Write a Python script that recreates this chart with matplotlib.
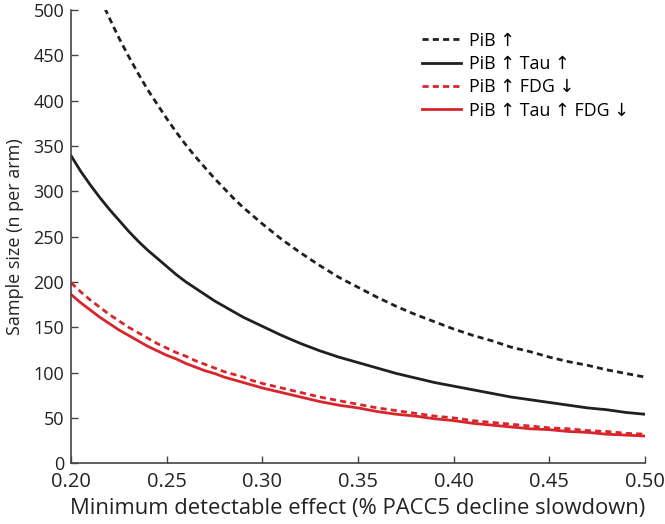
import numpy as np
import matplotlib
matplotlib.use('Agg')
import matplotlib.pyplot as plt

plt.rcParams['font.family'] = ['Open Sans', 'DejaVu Sans']

effect = [0.200, 0.205, 0.210, 0.215, 0.220, 0.225, 0.230, 0.235, 0.240, 0.245,
          0.250, 0.255, 0.260, 0.265, 0.270, 0.275, 0.280, 0.285, 0.290, 0.295,
          0.30, 0.31, 0.32, 0.33, 0.34, 0.35, 0.36, 0.37, 0.38, 0.39, 0.40,
          0.41, 0.42, 0.43, 0.44, 0.45, 0.46, 0.47, 0.48, 0.49, 0.50]

pib = [594, 565, 538, 514, 491, 469, 449, 430, 412, 396,
       380, 365, 351, 338, 326, 314, 303, 292, 282, 273,
       264, 247, 232, 218, 205, 194, 183, 173, 164, 156, 148,
       141, 135, 128, 123, 117, 112, 108, 103, 99, 95]
pib_tau = [339, 322, 307, 293, 280, 268, 256, 245, 235, 226,
           217, 208, 200, 193, 186, 179, 173, 167, 161, 156,
           151, 141, 132, 124, 117, 111, 105, 99, 94, 89, 85,
           81, 77, 73, 70, 67, 64, 61, 59, 56, 54]
pib_fdg = [199, 189, 180, 172, 164, 157, 150, 144, 138, 132,
           127, 122, 118, 113, 109, 105, 101, 98, 95, 91,
           88, 83, 78, 73, 69, 65, 61, 58, 55, 52, 50,
           47, 45, 43, 41, 39, 38, 36, 35, 33, 32]
pib_tau_fdg = [186, 177, 169, 161, 154, 147, 141, 135, 129, 124,
               119, 115, 110, 106, 102, 99, 95, 92, 89, 86,
               83, 78, 73, 68, 64, 61, 57, 54, 52, 49, 47,
               44, 42, 40, 38, 37, 35, 34, 32, 31, 30]

labels = ['PiB \u2191', 'PiB \u2191 Tau \u2191', 'PiB \u2191 FDG \u2193', 'PiB \u2191 Tau \u2191 FDG \u2193']

black = '#231f20'
red = '#d7262b'
dash = (0, (2.2, 1.5))

fig = plt.figure(figsize=(6.65, 5.24), dpi=100)
ax = fig.add_axes([0.107, 0.116, 0.863, 0.865])

ax.plot(effect, pib, color=black, lw=2, ls=dash, label=labels[0])
ax.plot(effect, pib_tau, color=black, lw=2, label=labels[1])
ax.plot(effect, pib_fdg, color=red, lw=2, ls=dash, label=labels[2])
ax.plot(effect, pib_tau_fdg, color=red, lw=2, label=labels[3])

ax.set_xlim(0.2, 0.5)
ax.set_ylim(0, 500)
xt = np.arange(0.20, 0.501, 0.05)
ax.set_xticks(xt)
ax.set_xticklabels(['%.2f' % t for t in xt])
ax.set_yticks(np.arange(0, 501, 50))
ax.spines['top'].set_visible(False)
ax.spines['right'].set_visible(False)
for s in ['left', 'bottom']:
    ax.spines[s].set_color('#444444')
    ax.spines[s].set_linewidth(1.2)
ax.tick_params(direction='in', length=5, width=1, colors='#444444', labelcolor='#222222')
ax.tick_params(axis='x', labelsize=14.5, pad=6)
ax.tick_params(axis='y', labelsize=13, pad=5)

ax.set_xlabel('Minimum detectable effect (% PACC5 decline slowdown)', fontsize=15.8, color='#222222', labelpad=5)
ax.set_ylabel('Sample size (n per arm)', fontsize=13, color='#222222', labelpad=7)

ax.legend(loc='upper left', bbox_to_anchor=(0.612, 0.952), frameon=False, fontsize=12.8,
          handlelength=2.15, handletextpad=0.45, labelspacing=0.3, borderaxespad=0, borderpad=0)

fig.savefig('out.png', dpi=100)
